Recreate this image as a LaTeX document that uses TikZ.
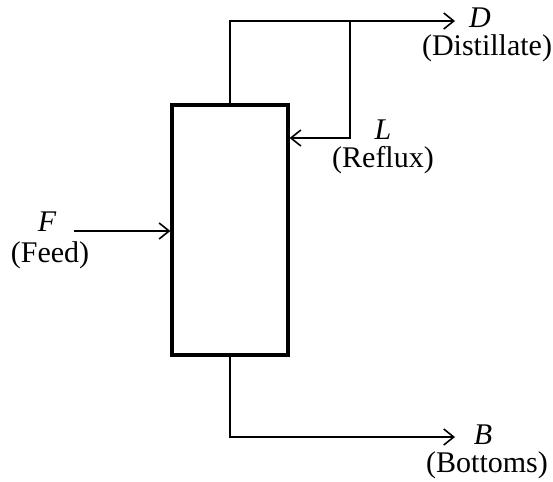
\documentclass[tikz,border=0pt]{standalone}
\usepackage{fontspec}
\setmainfont{Liberation Serif}
\usetikzlibrary{arrows.meta,positioning}
\tikzset{%
  % classes
  column/.style={draw, line width=1.6pt, minimum width=58pt, minimum height=125pt, inner sep=0pt},
  tag/.style={inner sep=1pt, font=\fontsize{15}{18}\selectfont\itshape},
  desc/.style={inner sep=1pt, font=\fontsize{15}{18}\selectfont},
  % edge styles
  pipe/.style={line width=0.8pt},
  stream/.style={pipe, -{Straight Barb[length=5pt, width=8pt, line width=0.8pt]}},
}
\begin{document}
\begin{tikzpicture}[x=0.5pt, y=-0.5pt]
  \useasboundingbox (0,0) rectangle (553,482);

  \node[column] (col) at (230,230) {};

  % distillate
  \coordinate (dtop) at (230,21);
  \coordinate (dend) at (455,21);
  \draw[stream] (col.north) -- (dtop) -- (dend);
  \node[tag] (d) at (480,18) {D};
  \node[desc] (dname) at (487,48) {(Distillate)};

  % reflux
  \coordinate (rtop) at (350,21);
  \coordinate (rturn) at (350,138);
  \draw[stream] (rtop) -- (rturn) -- (col.east |- rturn);
  \node[tag] (l) at (383,130) {L};
  \node[desc] (lname) at (383,160) {(Reflux)};

  % feed
  \coordinate (fstart) at (74,231);
  \draw[stream] (fstart) -- (col.west |- fstart);
  \node[tag] (f) at (47,222) {F};
  \node[desc] (fname) at (50,255) {(Feed)};

  % bottoms
  \coordinate (bturn) at (230,437);
  \coordinate (bend) at (455,437);
  \draw[stream] (col.south) -- (bturn) -- (bend);
  \node[tag] (b) at (483,435) {B};
  \node[desc] (bname) at (487,465) {(Bottoms)};
\end{tikzpicture}
\end{document}
